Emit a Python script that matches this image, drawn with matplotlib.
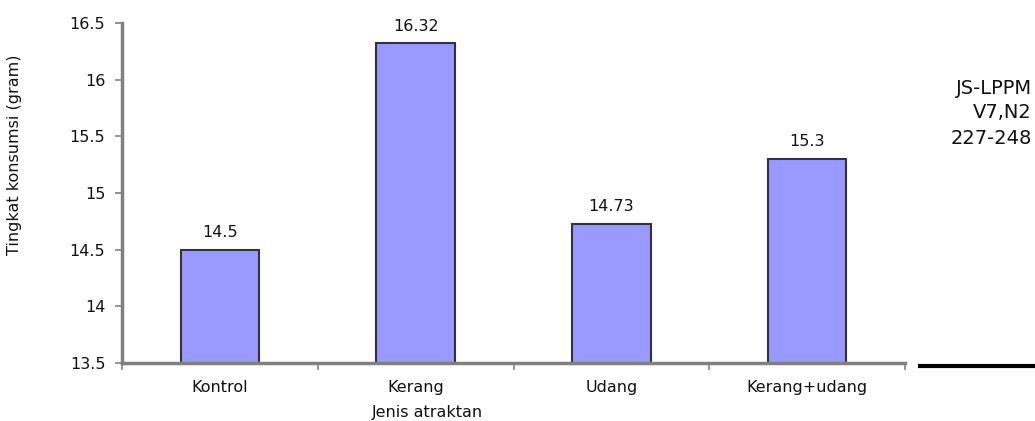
import matplotlib
matplotlib.use('Agg')
import matplotlib.pyplot as plt
import numpy as np

# data
categories = ['Kontrol', 'Kerang', 'Udang', 'Kerang+udang']
values = [14.5, 16.32, 14.73, 15.3]
value_labels = ['14.5', '16.32', '14.73', '15.3']
y_ticks = [13.5, 14, 14.5, 15, 15.5, 16, 16.5]
y_tick_labels = ['13.5', '14', '14.5', '15', '15.5', '16', '16.5']
side_text = ['JS-LPPM', 'V7,N2', '227-248']

plt.rcParams['font.family'] = ['DejaVu Sans']
FS = 11.5

fig = plt.figure(figsize=(10.35, 4.21), dpi=100, facecolor='white')
ax = fig.add_axes([122 / 1035, 1 - 363 / 421, (905 - 122) / 1035, (363 - 23) / 421])

x = np.arange(len(categories))
ax.bar(x, values, width=0.4, bottom=0, color='#9999ff', edgecolor='#333333', linewidth=1.5, zorder=2)

for xi, v, lab in zip(x, values, value_labels):
    ax.annotate(lab, (xi, v), xytext=(0, 7), textcoords='offset points',
                ha='center', va='bottom', fontsize=FS, color='#111111')

ax.set_xlim(-0.5, len(categories) - 0.5)
ax.set_ylim(13.5, 16.5)
ax.set_yticks(y_ticks)
ax.set_yticklabels(y_tick_labels, fontsize=FS, color='#111111')
ax.set_xticks(x)
ax.set_xticklabels(categories, fontsize=FS, color='#111111')
ax.set_xticks(np.arange(len(categories) + 1) - 0.5, minor=True)
ax.tick_params(axis='x', which='major', length=0, pad=12)
ax.tick_params(axis='x', which='minor', length=5, width=1.2, color='#808080', direction='out')
ax.tick_params(axis='y', length=5, width=1.2, color='#808080', direction='out', pad=7)

ax.set_xlabel('Jenis atraktan', fontsize=FS, color='#111111')
ax.xaxis.set_label_coords(0.39, -0.125)
ax.set_ylabel('Tingkat konsumsi (gram)', fontsize=FS, color='#111111')
ax.yaxis.set_label_coords(-0.137, 0.612)
ax.yaxis.label.set_va('center')

for side in ['top', 'right']:
    ax.spines[side].set_visible(False)
for side in ['left', 'bottom']:
    ax.spines[side].set_color('#808080')
    ax.spines[side].set_linewidth(2.5)

# page text on the right
for i, t in enumerate(side_text):
    fig.text(1032 / 1035, 1 - (88 + i * 25) / 421, t, ha='right', va='center',
             fontsize=14, color='#111111')

# black rule at bottom right
fig.add_artist(plt.Line2D([920 / 1035, 1.0], [1 - 366 / 421, 1 - 366 / 421],
                          color='black', linewidth=3))

fig.savefig('out.png', dpi=100, facecolor='white')
